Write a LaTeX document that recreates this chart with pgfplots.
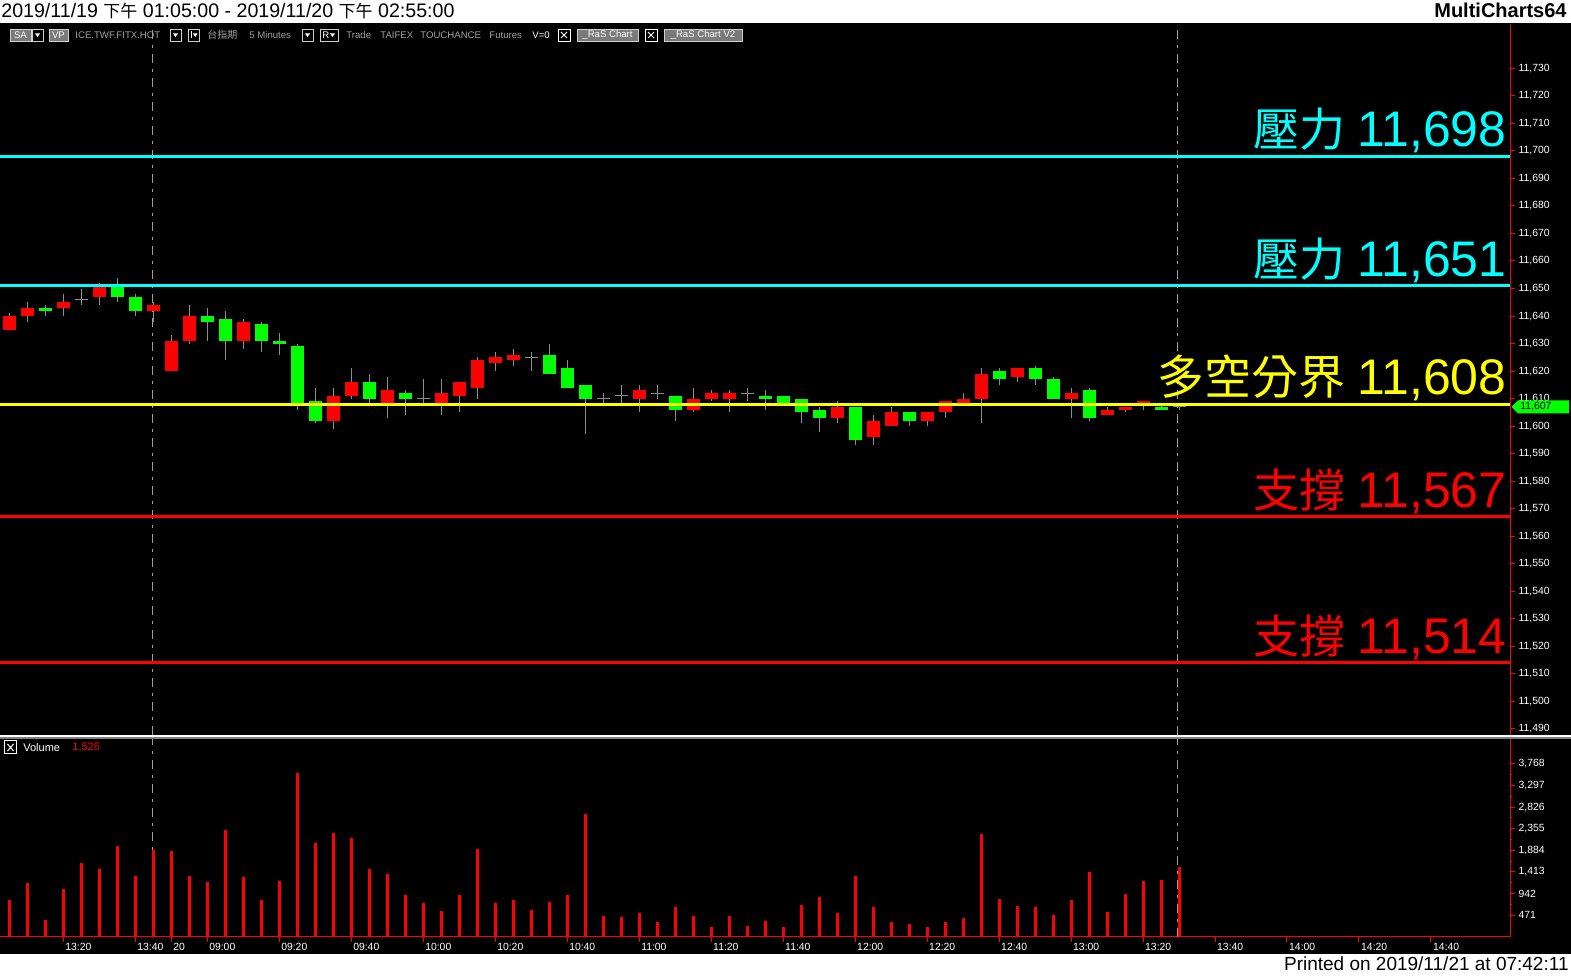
\documentclass[border=0pt]{standalone}
\usepackage{fontspec}
\setmainfont{Liberation Sans}
\newfontfamily\cjk{Noto Sans CJK TC}
\usepackage{pgfplots}
\pgfplotsset{compat=1.18}
\usepackage{pgfplotstable}

\definecolor{cyn}{HTML}{00FFFF}
\definecolor{ylw}{HTML}{FFFF00}
\definecolor{rd}{HTML}{FF0000}
\definecolor{gr}{HTML}{00FF00}
\definecolor{wick}{HTML}{8C8C8C}
\definecolor{dashc}{HTML}{A0A0A0}
\definecolor{tbtext}{HTML}{A0A0A0}
\definecolor{tbbox}{HTML}{7A7A7A}
\definecolor{tbedge}{HTML}{D0D0D0}

% up candles (close > open): red
\pgfplotstableread{
i o h l c
0 11635 11641 11635 11640
1 11640 11645 11638 11643
3 11643 11648 11640 11645
5 11647 11652 11644 11651
8 11642 11645 11638 11644
9 11620 11633 11620 11631
10 11631 11644 11630 11640
13 11631 11639 11628 11638
18 11602 11614 11599 11611
19 11611 11621 11610 11616
21 11608 11618 11603 11613
24 11608 11617 11604 11612
25 11611 11616 11605 11616
26 11614 11625 11610 11624
27 11623 11627 11620 11625
28 11624 11628 11622 11626
35 11610 11615 11605 11613
38 11606 11614 11605 11610
39 11610 11613 11609 11612
40 11610 11613 11605 11612
46 11603 11609 11601 11607
48 11596 11604 11593 11602
49 11600 11607 11600 11605
51 11602 11605 11600 11605
52 11605 11609 11603 11609
53 11608 11612 11608 11610
54 11610 11621 11601 11619
56 11618 11621 11616 11621
59 11610 11614 11603 11612
61 11604 11607 11604 11606
62 11606 11607 11605 11607
63 11608 11609 11606 11609
}\upT

% down candles (close < open): green
\pgfplotstableread{
i o h l c
2 11643 11644 11640 11642
6 11651 11654 11645 11647
7 11647 11648 11640 11642
11 11640 11643 11631 11638
12 11639 11642 11624 11631
14 11637 11638 11627 11631
15 11631 11634 11626 11630
16 11629 11630 11606 11608
17 11609 11614 11601 11602
20 11616 11619 11608 11610
22 11612 11613 11604 11610
30 11626 11630 11619 11619
31 11621 11624 11614 11614
32 11615 11615 11597 11610
37 11611 11611 11602 11606
42 11611 11613 11606 11610
43 11611 11611 11608 11608
44 11610 11610 11601 11605
45 11606 11607 11598 11603
47 11607 11607 11593 11595
50 11605 11605 11600 11602
55 11620 11621 11615 11617
57 11621 11622 11615 11617
58 11617 11618 11610 11610
60 11613 11614 11602 11603
64 11607 11608 11606 11606
}\downT

% doji candles (close = open)
\pgfplotstableread{
i o h l c
4 11646 11650 11644 11646
23 11610 11617 11608 11610
29 11625 11627 11620 11625
33 11610 11612 11608 11610
34 11611 11615 11608 11611
36 11612 11615 11610 11612
41 11612 11614 11609 11612
65 11607 11608 11606 11607
}\dojiT

% volume
\pgfplotstableread{
i v
0 797
1 1166
2 362
3 1036
4 1601
5 1471
6 1971
7 1319
8 1884
9 1862
10 1319
11 1188
12 2318
13 1297
14 797
15 1210
16 3579
17 2036
18 2253
19 2145
20 1471
21 1362
22 906
23 732
24 558
25 906
26 1905
27 732
28 797
29 580
30 753
31 906
32 2666
33 449
34 427
35 514
36 319
37 645
38 449
39 210
40 449
41 232
42 341
43 210
44 688
45 862
46 514
47 1319
48 645
49 319
50 275
51 210
52 319
53 406
54 2231
55 819
56 667
57 645
58 471
59 797
60 1406
61 536
62 927
63 1210
64 1232
65 1526
}\volT

\newcommand{\tickf}{\fontsize{5.2}{6}\selectfont}
\newcommand{\tbf}{\fontsize{4.8}{5.5}\selectfont}

\begin{document}
\begin{tikzpicture}
\useasboundingbox (0pt,0pt) rectangle (785.5pt,488pt);
\fill[white] (0pt,0pt) rectangle (785.5pt,488pt);
\fill[black] (0pt,11pt) rectangle (785.5pt,476.3pt);

% ---------------- price panel ----------------
\begin{axis}[
  at={(0pt,120.5pt)}, anchor=south west,
  width=755pt, height=355.5pt, scale only axis,
  xmin=-0.506, xmax=83.39, ymin=11487.8, ymax=11746.1,
  axis x line=none, axis y line*=right,
  axis line style={draw=rd, line width=0.5pt, -},
  ytick={11490,11500,...,11730},
  minor y tick num=1,
  tick align=outside,
  major tick length=2.5pt, minor tick length=1pt,
  tick style={draw=rd, line width=0.5pt},
  scaled y ticks=false,
  yticklabel style={font=\tickf, text=white, inner sep=1.6pt,
    /pgf/number format/1000 sep={,},
    /pgf/number format/assume math mode=true},
  clip=false,
]
\draw[dashc, line width=0.5pt, dash pattern=on 4.5pt off 3pt on 1.5pt off 3pt]
  (axis cs:7.94,11487.8) -- (axis cs:7.94,11746.1);
\draw[dashc, line width=0.5pt, dash pattern=on 4.5pt off 3pt on 1.5pt off 3pt]
  (axis cs:64.9,11487.8) -- (axis cs:64.9,11746.1);

% wicks
\addplot[draw=none, mark=none, error bars/.cd, y dir=plus, y explicit, error mark=none,
  error bar style={draw=wick, line width=0.5pt}]
  table[x=i, y=l, y error expr=\thisrow{h}-\thisrow{l}] {\upT};
\addplot[draw=none, mark=none, error bars/.cd, y dir=plus, y explicit, error mark=none,
  error bar style={draw=wick, line width=0.5pt}]
  table[x=i, y=l, y error expr=\thisrow{h}-\thisrow{l}] {\downT};
\addplot[draw=none, mark=none, error bars/.cd, y dir=plus, y explicit, error mark=none,
  error bar style={draw=wick, line width=0.5pt}]
  table[x=i, y=l, y error expr=\thisrow{h}-\thisrow{l}] {\dojiT};
% bodies
\addplot[draw=none, mark=none, error bars/.cd, y dir=plus, y explicit, error mark=none,
  error bar style={draw=rd, line width=6.5pt}]
  table[x=i, y=o, y error expr=\thisrow{c}-\thisrow{o}] {\upT};
\addplot[draw=none, mark=none, error bars/.cd, y dir=plus, y explicit, error mark=none,
  error bar style={draw=gr, line width=6.5pt}]
  table[x=i, y=c, y error expr=\thisrow{o}-\thisrow{c}] {\downT};
\addplot[only marks, mark=-, mark size=3.25pt, mark options={draw=wick, line width=0.5pt}]
  table[x=i, y=c] {\dojiT};

% levels
\addplot[cyn, line width=1.5pt, mark=none] coordinates {(-0.506,11698) (83.39,11698)};
\addplot[cyn, line width=1.5pt, mark=none] coordinates {(-0.506,11651) (83.39,11651)};
\addplot[ylw, line width=1.5pt, mark=none] coordinates {(-0.506,11608) (83.39,11608)};
\addplot[rd, line width=1.5pt, mark=none] coordinates {(-0.506,11567) (83.39,11567)};
\addplot[rd, line width=1.5pt, mark=none] coordinates {(-0.506,11514) (83.39,11514)};

\node[anchor=base east, inner sep=0pt, text=cyn, xshift=-1.5pt, yshift=4.8pt] at (axis cs:83.39,11698)
  {{\cjk\fontsize{23}{23}\selectfont 壓力}\hspace{6pt}{\fontsize{25}{25}\selectfont 11,698}};
\node[anchor=base east, inner sep=0pt, text=cyn, xshift=-1.5pt, yshift=4.8pt] at (axis cs:83.39,11651)
  {{\cjk\fontsize{23}{23}\selectfont 壓力}\hspace{6pt}{\fontsize{25}{25}\selectfont 11,651}};
\node[anchor=base east, inner sep=0pt, text=ylw, xshift=-1.5pt, yshift=4.6pt] at (axis cs:83.39,11608)
  {{\cjk\fontsize{23.5}{23.5}\selectfont 多空分界}\hspace{6pt}{\fontsize{25}{25}\selectfont 11,608}};
\node[anchor=base east, inner sep=0pt, text=rd, xshift=-1.5pt, yshift=4.8pt] at (axis cs:83.39,11567)
  {{\cjk\fontsize{23}{23}\selectfont 支撐}\hspace{6pt}{\fontsize{25}{25}\selectfont 11,567}};
\node[anchor=base east, inner sep=0pt, text=rd, xshift=-1.5pt, yshift=4.8pt] at (axis cs:83.39,11514)
  {{\cjk\fontsize{23}{23}\selectfont 支撐}\hspace{6pt}{\fontsize{25}{25}\selectfont 11,514}};

% last price tag
\fill[gr] ([xshift=0.8pt]axis cs:83.39,11607) -- ++(3.2pt,3.3pt) -- ++(25.5pt,0pt)
  -- ++(0pt,-6.6pt) -- ++(-25.5pt,0pt) -- cycle;
\node[anchor=west, inner sep=0pt, text=black, font=\tickf, xshift=5pt] at (axis cs:83.39,11607) {11,607};
\end{axis}

% ---------------- volume panel ----------------
\begin{axis}[
  at={(0pt,19.65pt)}, anchor=south west,
  width=755pt, height=98.85pt, scale only axis,
  xmin=-0.506, xmax=83.39, ymin=0, ymax=4310,
  axis x line*=bottom, axis y line*=right,
  axis line style={draw=rd, line width=0.5pt, -},
  ytick={471,942,1413,1884,2355,2826,3297,3768},
  minor y tick num=1,
  xtick={3,7,9,11,15,19,23,27,31,35,39,43,47,51,55,59,63,67,71,75,79},
  xticklabels={13:20,13:40,20,09:00,09:20,09:40,10:00,10:20,10:40,11:00,11:20,11:40,12:00,12:20,12:40,13:00,13:20,13:40,14:00,14:20,14:40},
  tick align=outside,
  major tick length=2.5pt, minor tick length=1pt,
  tick style={draw=rd, line width=0.5pt},
  scaled y ticks=false,
  yticklabel style={font=\tickf, text=white, inner sep=1.6pt,
    /pgf/number format/1000 sep={,},
    /pgf/number format/assume math mode=true},
  xticklabel style={font=\tickf, text=white, anchor=north west, inner sep=0.6pt, xshift=0.3pt},
]
\draw[dashc, line width=0.5pt, dash pattern=on 4.5pt off 3pt on 1.5pt off 3pt]
  (axis cs:7.94,0) -- (axis cs:7.94,4310);
\draw[dashc, line width=0.5pt, dash pattern=on 4.5pt off 3pt on 1.5pt off 3pt]
  (axis cs:64.9,0) -- (axis cs:64.9,4310);
\addplot[ycomb, draw=rd, line width=1.5pt, mark=none] table[x=i, y=v] {\volT};
\end{axis}

\begin{scope}[x=0.5pt, y=0.5pt]
% separator
\fill[white] (0,976-737) rectangle (1571,976-735);
\fill[gray] (0,976-739) rectangle (1571,976-737);

% header / footer
\node[anchor=base west, inner sep=0pt, text=black] at (1,976-18)
  {\fontsize{9.8}{11}\selectfont 2019/11/19 {\cjk\fontsize{8.5}{9}\selectfont 下午} 01:05:00 - 2019/11/20 {\cjk\fontsize{8.5}{9}\selectfont 下午} 02:55:00};
\node[anchor=base east, inner sep=0pt, text=black] at (1567,976-17.5)
  {\fontsize{10}{11}\selectfont\bfseries MultiCharts64};
\node[anchor=base east, inner sep=0pt, text=black] at (1569,976-970)
  {\fontsize{9.5}{11}\selectfont Printed on 2019/11/21 at 07:42:11};

% volume header
\draw[white, line width=0.5pt] (4.5,976-741) rectangle (16.5,976-754);
\draw[white, line width=0.5pt] (7.5,976-744) -- (13.5,976-751) (13.5,976-744) -- (7.5,976-751);
\node[anchor=west, inner sep=0pt, text=white, font=\fontsize{5.5}{6}\selectfont] at (23,976-747.5) {Volume};
\node[anchor=west, inner sep=0pt, text=rd, font=\fontsize{5.5}{6}\selectfont] at (72,976-747.5) {1,526};

% toolbar
\draw[fill=tbbox, draw=tbedge, line width=0.4pt] (10,976-29) rectangle (31,976-41);
\node[text=white, font=\tbf, inner sep=0pt] at (20.5,976-35) {SA};
\draw[draw=tbedge, line width=0.4pt] (32,976-29) rectangle (43,976-41);
\fill[white] (35,976-33.5) -- (40,976-33.5) -- (37.5,976-37) -- cycle;
\draw[fill=tbbox, draw=tbedge, line width=0.4pt] (49,976-29) rectangle (68,976-41);
\node[text=white, font=\tbf, inner sep=0pt] at (58.5,976-35) {VP};
\node[anchor=west, text=tbtext, font=\tbf, inner sep=0pt] at (75,976-35) {ICE.TWF.FITX.HOT};
\draw[draw=tbedge, line width=0.4pt] (170,976-29) rectangle (181,976-41);
\fill[white] (173,976-33.5) -- (178,976-33.5) -- (175.5,976-37) -- cycle;
\draw[draw=tbedge, line width=0.4pt] (188,976-29) rectangle (199,976-41);
\draw[white, line width=0.5pt] (191,976-31.5) -- (191,976-38.5);
\fill[white] (193,976-33.5) -- (197.5,976-33.5) -- (195.25,976-37) -- cycle;
\node[anchor=west, text=tbtext, font=\cjk\fontsize{5}{5.5}\selectfont, inner sep=0pt] at (207,976-35) {台指期};
\node[anchor=west, text=tbtext, font=\tbf, inner sep=0pt] at (249,976-35) {5 Minutes};
\draw[draw=tbedge, line width=0.4pt] (302,976-29) rectangle (313,976-41);
\fill[white] (305,976-33.5) -- (310,976-33.5) -- (307.5,976-37) -- cycle;
\draw[draw=tbedge, line width=0.4pt] (320,976-29) rectangle (338,976-41);
\node[anchor=west, text=white, font=\tbf, inner sep=0pt] at (322,976-35) {R};
\fill[white] (330,976-33.5) -- (335,976-33.5) -- (332.5,976-37) -- cycle;
\node[anchor=west, text=tbtext, font=\tbf, inner sep=0pt] at (346,976-35) {Trade};
\node[anchor=west, text=tbtext, font=\tbf, inner sep=0pt] at (380,976-35) {TAIFEX};
\node[anchor=west, text=tbtext, font=\tbf, inner sep=0pt] at (420,976-35) {TOUCHANCE};
\node[anchor=west, text=tbtext, font=\tbf, inner sep=0pt] at (489,976-35) {Futures};
\node[anchor=west, text=white, font=\tbf, inner sep=0pt] at (532,976-35) {V=0};
\draw[draw=white, line width=0.4pt] (558,976-29) rectangle (570,976-41);
\draw[white, line width=0.4pt] (561,976-32) -- (567,976-38) (567,976-32) -- (561,976-38);
\draw[fill=tbbox, draw=tbedge, line width=0.4pt] (577,976-29) rectangle (638,976-41);
\node[text=white, font=\tbf, inner sep=0pt] at (607.5,976-35) {\_RaS Chart};
\draw[draw=white, line width=0.4pt] (645,976-29) rectangle (657,976-41);
\draw[white, line width=0.4pt] (648,976-32) -- (654,976-38) (654,976-32) -- (648,976-38);
\draw[fill=tbbox, draw=tbedge, line width=0.4pt] (664,976-29) rectangle (742,976-41);
\node[text=white, font=\tbf, inner sep=0pt] at (703,976-35) {\_RaS Chart V2};
\end{scope}
\end{tikzpicture}
\end{document}
